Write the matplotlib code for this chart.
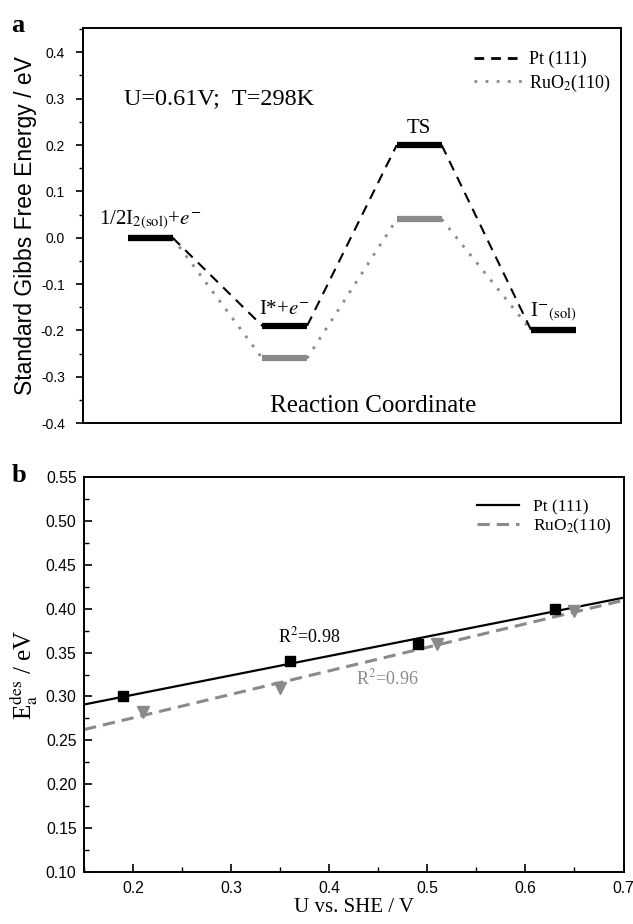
import numpy as np
import matplotlib
matplotlib.use("Agg")
import matplotlib.pyplot as plt
from matplotlib.ticker import MultipleLocator, NullLocator, FuncFormatter

plt.rcParams["mathtext.fontset"] = "stix"
SERIF = "Liberation Serif"
SANS = "Liberation Sans"
GRAY = "#8a8a8a"

# panel a: free energy diagram
steps = [1.5, 4.5, 7.5, 10.5]
pt_energy = [0.0, -0.19, 0.20, -0.20]
ru_energy = [0.0, -0.26, 0.04, -0.20]
step_labels = [r"1/2I$_{\mathrm{2(sol)}}$+$e^{-}$", r"I*+$e^{-}$", "TS",
               r"I$^{-}$$_{\mathrm{(sol)}}$"]
label_offsets = [0.038, 0.036, 0.036, 0.04]

# panel b: desorption barrier vs potential
pt_u = [0.19, 0.36, 0.49, 0.63]
pt_e = [0.30, 0.34, 0.36, 0.40]
ru_u = [0.21, 0.35, 0.51, 0.65]
ru_e = [0.282, 0.31, 0.36, 0.397]

fig = plt.figure(figsize=(6.33, 9.24), dpi=100)
ax1 = fig.add_axes([0.131, 0.542, 0.850, 0.4275])
ax2 = fig.add_axes([0.133, 0.056, 0.852, 0.428])

half = 0.5


def draw_profile(ax, energies, color, ls, lw_link, level_lw):
    for i, (s, e) in enumerate(zip(steps, energies)):
        ax.plot([s - half, s + half], [e, e], color=color, lw=level_lw,
                solid_capstyle="butt", zorder=3)
        if i < len(steps) - 1:
            ax.plot([s + half, steps[i + 1] - half], [e, energies[i + 1]],
                    color=color, lw=lw_link, ls=ls, zorder=2)


# RuO2 first so Pt levels sit on top where they coincide
draw_profile(ax1, ru_energy, GRAY, (0, (1, 3.0)), 2.0, 4.5)
draw_profile(ax1, pt_energy, "black", (0, (5, 3.5)), 1.5, 4.5)

tops = [max(p, r) for p, r in zip(pt_energy, ru_energy)]
for s, t, lab, off in zip(steps, tops, step_labels, label_offsets):
    ax1.text(s, t + off, lab, ha="center", va="center", fontsize=15, family=SERIF)

ax1.text(0.92, 0.30, "U=0.61V;  T=298K", fontsize=17.5, family=SERIF, va="center")
ax1.text(6.47, -0.362, "Reaction Coordinate", fontsize=18, family=SERIF,
         ha="center", va="center")

ax1.plot([], [], color="black", ls=(0, (3.5, 2.5)), lw=2.0, label="Pt (111)")
ax1.plot([], [], color=GRAY, ls=(0, (1, 3)), lw=2.0, label=r"RuO$_2$(110)")
ax1.legend(loc="upper right", bbox_to_anchor=(1.0, 0.97), frameon=False,
           prop={"family": SERIF, "size": 13}, handlelength=2.7,
           handletextpad=0.3, labelspacing=0.25, borderaxespad=0.2)

ax1.set_xlim(0, 12)
ax1.set_ylim(-0.4, 0.452)
ax1.xaxis.set_major_locator(NullLocator())
ax1.yaxis.set_major_locator(MultipleLocator(0.1))
ax1.yaxis.set_minor_locator(MultipleLocator(0.05))
ax1.yaxis.set_major_formatter(FuncFormatter(lambda v, p: f"{v + 0.0:.1f}".replace("-0.0", "0.0")))
ax1.set_ylabel("Standard Gibbs Free Energy / eV", fontsize=16.5, family=SANS, labelpad=3)
ax1.tick_params(which="both", direction="out", top=False, right=False,
                labelsize=10, pad=8)
ax1.tick_params(which="major", length=5, width=1.2)
ax1.tick_params(which="minor", length=3, width=1.0)

# panel b
ax2.plot(pt_u, pt_e, "s", color="black", ms=7, zorder=3)
ax2.plot(ru_u, ru_e, "v", color=GRAY, ms=8, zorder=3)
xfit = np.array([0.15, 0.7])
kp = np.polyfit(pt_u, pt_e, 1)
kr = np.polyfit(ru_u, ru_e, 1)
ax2.plot(xfit, np.polyval(kp, xfit), color="black", lw=1.6, label="Pt (111)")
ax2.plot(xfit, np.polyval(kr, xfit), color=GRAY, lw=2.2, ls=(0, (4, 2.3)),
         label=r"RuO$_2$(110)")
ax2.text(0.379, 0.368, r"R$^2$=0.98", fontsize=13, family=SERIF, ha="center", va="center")
ax2.text(0.459, 0.3205, r"R$^2$=0.96", fontsize=13, family=SERIF, ha="center",
         va="center", color=GRAY)
ax2.legend(loc="upper right", bbox_to_anchor=(1.0, 0.975), frameon=False,
           prop={"family": SERIF, "size": 12.5}, handlelength=2.4,
           handletextpad=0.8, labelspacing=0.08, borderaxespad=0.3)

ax2.set_xlim(0.15, 0.7)
ax2.set_ylim(0.10, 0.55)
ax2.xaxis.set_major_locator(MultipleLocator(0.1))
ax2.xaxis.set_minor_locator(MultipleLocator(0.05))
ax2.yaxis.set_major_locator(MultipleLocator(0.05))
ax2.yaxis.set_minor_locator(MultipleLocator(0.025))
ax2.xaxis.set_major_formatter(plt.FormatStrFormatter("%.1f"))
ax2.yaxis.set_major_formatter(plt.FormatStrFormatter("%.2f"))
ax2.set_xlabel("U vs. SHE / V", fontsize=15, family=SERIF, labelpad=2)
ax2.set_ylabel(r"E$_\mathrm{a}^\mathrm{des}$ / eV", fontsize=18, family=SERIF, labelpad=4)
ax2.tick_params(which="both", direction="in", top=False, right=False,
                labelsize=11.3)
ax2.tick_params(axis="y", which="both", pad=5.5)
ax2.tick_params(axis="x", which="both", pad=6)
ax2.tick_params(which="major", length=6, width=1.2)
ax2.tick_params(which="minor", length=3.5, width=1.0)

for ax in (ax1, ax2):
    for sp in ax.spines.values():
        sp.set_linewidth(1.4)
    for lab in ax.get_xticklabels() + ax.get_yticklabels():
        lab.set_family(SANS)

fig.text(0.018, 0.965, "a", fontsize=19, fontweight="bold", family=SERIF)
fig.text(0.018, 0.478, "b", fontsize=19, fontweight="bold", family=SERIF)

fig.savefig("out.png", dpi=100)
